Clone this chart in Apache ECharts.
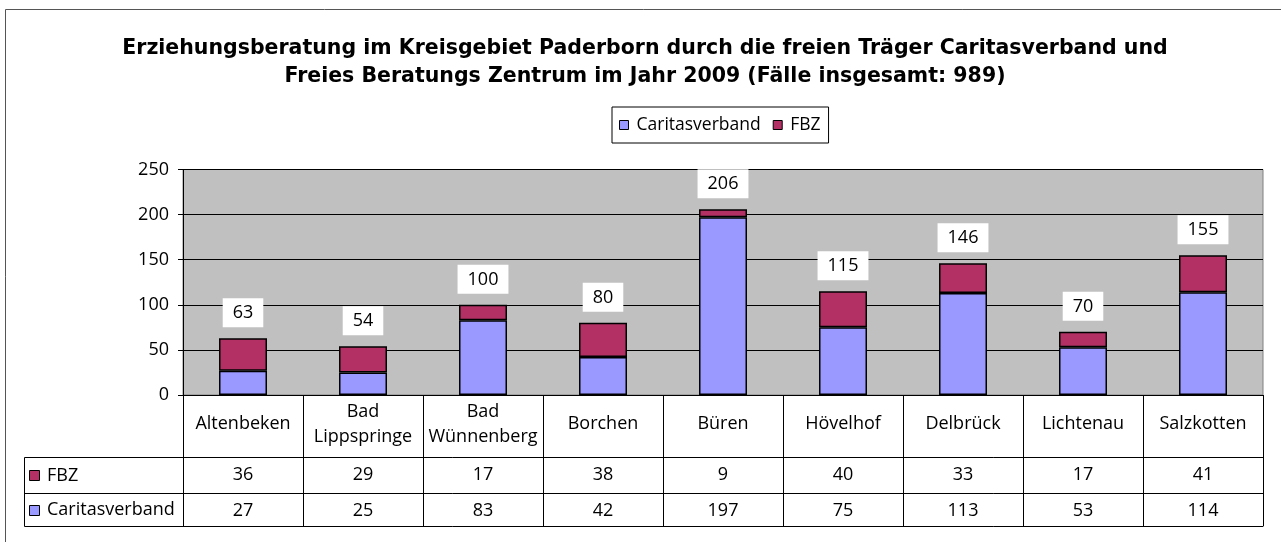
<!DOCTYPE html>
<html>
<head>
<meta charset="UTF-8"/>
<title>Erziehungsberatung Paderborn 2009</title>
<script src="https://cdn.jsdelivr.net/npm/echarts@6/dist/echarts.min.js"></script>
<style>
html,body{margin:0;padding:0;background:#fff;}
#main{width:1281px;height:542px;}
</style>
</head>
<body>
<div id="main"></div>
<script type="text/javascript">
// Daten
var orte = ['Altenbeken', 'Bad\nLippspringe', 'Bad\nWünnenberg', 'Borchen', 'Büren', 'Hövelhof', 'Delbrück', 'Lichtenau', 'Salzkotten'];
var caritas = [27, 25, 83, 42, 197, 75, 113, 53, 114];
var fbz = [36, 29, 17, 38, 9, 40, 33, 17, 41];
var yTicks = [0, 50, 100, 150, 200, 250];

var farbeCaritas = '#9999FF';
var farbeFbz = '#B23064';
var schrift = '"Open Sans", "DejaVu Sans", sans-serif';
var titelSchrift = '"DejaVu Sans", "Open Sans", sans-serif';

var summen = caritas.map(function (v, i) { return v + fbz[i]; });

var myChart = echarts.init(document.getElementById('main'));

// Tabellenzeilen unter der Achse
function tabAchse(offset, werte, tickLen, showLabel) {
	return {
		type: 'category',
		gridIndex: 0,
		position: 'bottom',
		offset: offset,
		data: werte,
		boundaryGap: true,
		axisLine: {show: true, lineStyle: {color: '#000', width: 1}},
		axisTick: {show: tickLen > 0, length: tickLen, interval: 0, lineStyle: {color: '#000', width: 1}},
		axisLabel: {show: showLabel, interval: 0, margin: 18, verticalAlign: 'middle', color: '#000', fontSize: 18, fontFamily: schrift},
		splitLine: {show: false}
	};
}

var option = {
	animation: false,
	backgroundColor: '#fff',
	title: {
		text: 'Erziehungsberatung im Kreisgebiet Paderborn durch die freien Träger Caritasverband und\nFreies Beratungs Zentrum im Jahr 2009 (Fälle insgesamt: 989)',
		left: 640,
		textAlign: 'center',
		top: 30,
		textStyle: {fontFamily: titelSchrift, fontSize: 20.5, fontWeight: 'bold', color: '#000', lineHeight: 28}
	},
	legend: {
		data: ['Caritasverband', 'FBZ'],
		left: 612,
		top: 107,
		orient: 'horizontal',
		icon: 'rect',
		itemWidth: 9,
		itemHeight: 9,
		itemGap: 12,
		padding: [8, 8, 8, 7],
		borderColor: '#000',
		borderWidth: 1,
		itemStyle: {borderColor: '#000', borderWidth: 1},
		textStyle: {fontFamily: schrift, fontSize: 17.5, color: '#000', lineHeight: 20, padding: [0, 0, 0, 3]}
	},
	grid: {
		left: 183,
		right: 18,
		top: 169.5,
		bottom: 147,
		show: true,
		backgroundColor: '#C0C0C0',
		borderColor: '#808080',
		borderWidth: 1,
		containLabel: false
	},
	xAxis: [
		{
			type: 'category',
			data: orte,
			boundaryGap: true,
			axisLine: {show: true, lineStyle: {color: '#000', width: 1}},
			axisTick: {show: true, length: 62, interval: 0, lineStyle: {color: '#000', width: 1}},
			axisLabel: {interval: 0, margin: 29, verticalAlign: 'middle', lineHeight: 25, color: '#000', fontSize: 18, fontFamily: schrift},
			splitLine: {show: false}
		},
		tabAchse(62, fbz.map(String), 36, true),
		tabAchse(98, caritas.map(String), 33, true),
		tabAchse(131, orte, 0, false)
	],
	yAxis: {
		type: 'value',
		min: yTicks[0],
		max: yTicks[yTicks.length - 1],
		interval: 50,
		axisLine: {show: true, lineStyle: {color: '#000', width: 1}},
		axisTick: {show: true, length: 5, lineStyle: {color: '#000'}},
		axisLabel: {margin: 14, color: '#000', fontSize: 18, fontFamily: schrift},
		splitLine: {show: true, lineStyle: {color: '#000', width: 1}}
	},
	series: [
		{
			name: 'Caritasverband',
			type: 'bar',
			stack: 'gesamt',
			barWidth: '40%',
			data: caritas,
			itemStyle: {color: farbeCaritas, borderColor: '#000', borderWidth: 1.5}
		},
		{
			name: 'FBZ',
			type: 'bar',
			stack: 'gesamt',
			barWidth: '40%',
			data: fbz,
			itemStyle: {color: farbeFbz, borderColor: '#000', borderWidth: 1.5},
			label: {
				show: true,
				position: 'top',
				distance: 11,
				formatter: function (p) { return String(summen[p.dataIndex]); },
				backgroundColor: '#fff',
				padding: [6, 10, 5, 10],
				color: '#000',
				fontSize: 18,
				fontFamily: schrift
			}
		}
	],
	graphic: [
		// aeusserer Rahmen
		{type: 'rect', shape: {x: 5.5, y: 9.5, width: 1300, height: 600}, style: {fill: null, stroke: '#555', lineWidth: 1}, silent: true},
		// linke Spalte der Datentabelle
		{type: 'line', shape: {x1: 24.5, y1: 457.5, x2: 183, y2: 457.5}, style: {stroke: '#000', lineWidth: 1}},
		{type: 'line', shape: {x1: 24.5, y1: 493.5, x2: 183, y2: 493.5}, style: {stroke: '#000', lineWidth: 1}},
		{type: 'line', shape: {x1: 24.5, y1: 526.5, x2: 183, y2: 526.5}, style: {stroke: '#000', lineWidth: 1}},
		{type: 'line', shape: {x1: 24.5, y1: 457.5, x2: 24.5, y2: 526.5}, style: {stroke: '#000', lineWidth: 1}},
		{type: 'line', shape: {x1: 183.5, y1: 395, x2: 183.5, y2: 526.5}, style: {stroke: '#000', lineWidth: 1}},
		{type: 'rect', shape: {x: 29.5, y: 470.5, width: 10, height: 10}, style: {fill: farbeFbz, stroke: '#000', lineWidth: 1}},
		{type: 'text', x: 47, y: 476, style: {text: 'FBZ', fill: '#000', font: '18px ' + schrift, verticalAlign: 'middle'}},
		{type: 'rect', shape: {x: 29.5, y: 505.5, width: 10, height: 10}, style: {fill: farbeCaritas, stroke: '#000', lineWidth: 1}},
		{type: 'text', x: 47, y: 510, style: {text: 'Caritasverband', fill: '#000', font: '18px ' + schrift, verticalAlign: 'middle'}}
	]
};
myChart.setOption(option);
</script>
</body>
</html>
